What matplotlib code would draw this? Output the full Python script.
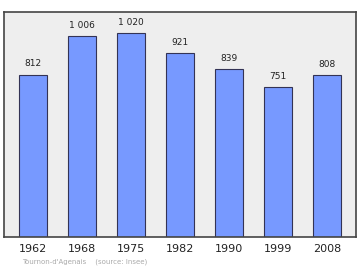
import matplotlib.pyplot as plt

years = ["1962", "1968", "1975", "1982", "1990", "1999", "2008"]
population = [812, 1006, 1020, 921, 839, 751, 808]
value_labels = ["812", "1 006", "1 020", "921", "839", "751", "808"]
commune = "Tournon-d'Agenais"
source = "(source: Insee)"

fig = plt.figure(figsize=(3.6, 2.7), dpi=100)
# plot area in pixels: x 4..356, y 12..237 (from top)
ax = fig.add_axes([4 / 360, 1 - 237 / 270, 352 / 360, 225 / 270])
ax.set_facecolor("#eeeeee")

x = list(range(len(years)))
ax.bar(x, population, width=0.571, color="#7799ff", edgecolor="#333355", linewidth=0.8)
for xi, v, lab in zip(x, population, value_labels):
    ax.annotate(lab, (xi, v), xytext=(0, 4.5), textcoords="offset points",
                ha="center", va="bottom", fontsize=6.5, color="#222222")

ax.set_xlim(-0.592, 6.59)
ax.set_ylim(0, 1125)
ax.set_yticks([])
ax.set_xticks(x)
ax.set_xticklabels(years, fontsize=8, color="#222222")
ax.tick_params(axis="x", length=0, pad=5)
for s in ax.spines.values():
    s.set_color("#444444")
    s.set_linewidth(1.2)

fig.text(22 / 360, 1 - 262 / 270, commune + "    " + source, fontsize=5.0,
         color="#aaaaaa", ha="left", va="center")

fig.savefig("out.png", dpi=100)
plt.close(fig)
